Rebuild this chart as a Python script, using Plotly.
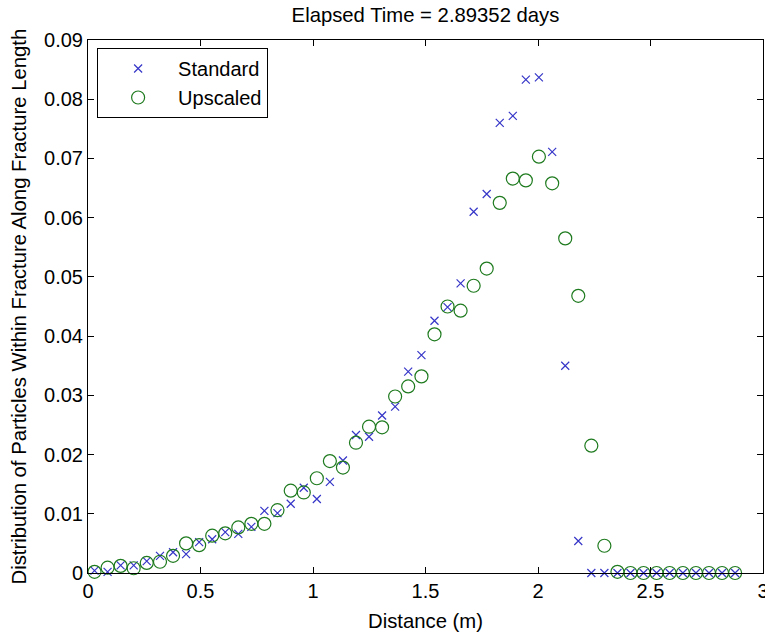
import plotly.graph_objects as go

distance = [0.029, 0.087, 0.145, 0.203, 0.261, 0.320, 0.378, 0.436, 0.494, 0.552,
            0.610, 0.668, 0.726, 0.784, 0.842, 0.901, 0.959, 1.017, 1.075, 1.133,
            1.191, 1.249, 1.307, 1.365, 1.423, 1.482, 1.540, 1.598, 1.656, 1.714,
            1.772, 1.830, 1.888, 1.946, 2.004, 2.063, 2.121, 2.179, 2.237, 2.295,
            2.353, 2.411, 2.469, 2.527, 2.585, 2.644, 2.702, 2.760, 2.818, 2.876]

standard = [0.0004, 0.0002, 0.0013, 0.0013, 0.0020, 0.0029, 0.0035, 0.0032, 0.0052, 0.0057,
            0.0069, 0.0066, 0.0078, 0.0105, 0.0101, 0.0117, 0.0144, 0.0125, 0.0154, 0.0190,
            0.0233, 0.0230, 0.0266, 0.0281, 0.0340, 0.0368, 0.0426, 0.0449, 0.0489, 0.0610,
            0.0640, 0.0760, 0.0772, 0.0833, 0.0837, 0.0711, 0.0350, 0.0054, 0.0, 0.0,
            0.0, 0.0, 0.0, 0.0, 0.0, 0.0, 0.0, 0.0, 0.0, 0.0]

upscaled = [0.0002, 0.0009, 0.0012, 0.0008, 0.0017, 0.0019, 0.0029, 0.0050, 0.0047, 0.0063,
            0.0067, 0.0077, 0.0083, 0.0083, 0.0106, 0.0139, 0.0136, 0.0160, 0.0189, 0.0178,
            0.0220, 0.0247, 0.0246, 0.0298, 0.0315, 0.0332, 0.0403, 0.0450, 0.0443, 0.0485,
            0.0514, 0.0625, 0.0666, 0.0663, 0.0703, 0.0658, 0.0565, 0.0468, 0.0215, 0.0046,
            0.0002, 0.0, 0.0, 0.0, 0.0, 0.0, 0.0, 0.0, 0.0, 0.0]

x_ticks = [0, 0.5, 1, 1.5, 2, 2.5, 3]
x_tick_labels = ["0", "0.5", "1", "1.5", "2", "2.5", "3"]
y_ticks = [0, 0.01, 0.02, 0.03, 0.04, 0.05, 0.06, 0.07, 0.08, 0.09]
y_tick_labels = ["0", "0.01", "0.02", "0.03", "0.04", "0.05", "0.06", "0.07", "0.08", "0.09"]

title_text = "Elapsed Time = 2.89352 days"
x_label = "Distance (m)"
y_label = "Distribution of Particles Within Fracture Along Fracture Length"

FONT = "Liberation Sans, Arial, sans-serif"
FS = 20
FS_T = 20.3

fig = go.Figure()
fig.add_trace(go.Scatter(
    x=distance, y=standard, mode="markers", name="Standard",
    marker=dict(symbol="x-thin-open", size=8, color="#3535c8",
                line=dict(color="#3535c8", width=1.2)),
    cliponaxis=False,
))
fig.add_trace(go.Scatter(
    x=distance, y=upscaled, mode="markers", name="Upscaled",
    marker=dict(symbol="circle-open", size=13, color="#1e7a1e",
                line=dict(color="#1e7a1e", width=1.2)),
    cliponaxis=False,
))

axis_common = dict(
    showgrid=False, zeroline=False, showline=True, linecolor="black", linewidth=1,
    mirror="ticks", ticks="inside", ticklen=6, tickcolor="black", tickwidth=1,
    tickfont=dict(family=FONT, size=FS, color="black"),
    ticklabeloverflow="allow", automargin=False,
)

fig.update_layout(
    width=765, height=632,
    margin=dict(l=88, r=2, t=40, b=59),
    paper_bgcolor="white", plot_bgcolor="white",
    font=dict(family=FONT, size=FS, color="black"),
    title=dict(text=title_text, xref="paper", x=0.5, xanchor="center",
               yref="container", y=0.988, yanchor="top",
               font=dict(family=FONT, size=FS_T, color="black")),
    xaxis=dict(range=[0, 3], tickvals=x_ticks, ticktext=x_tick_labels,
               title=dict(text=x_label, standoff=13,
                          font=dict(family=FONT, size=FS_T)),
               **axis_common),
    yaxis=dict(range=[0, 0.09], tickvals=y_ticks, ticktext=y_tick_labels,
               **axis_common),
    legend=dict(x=0.0135, y=0.985, xanchor="left", yanchor="top",
                bordercolor="black", borderwidth=1, bgcolor="white",
                font=dict(family=FONT, size=FS, color="black"),
                itemwidth=70, tracegroupgap=0),
    showlegend=True,
    annotations=[dict(text=y_label, textangle=-90, xref="paper", yref="paper",
                      x=-70 / 675, y=0.5, xanchor="center", yanchor="middle",
                      showarrow=False, font=dict(family=FONT, size=FS_T, color="black"))],
)

fig.write_html("out.html")
